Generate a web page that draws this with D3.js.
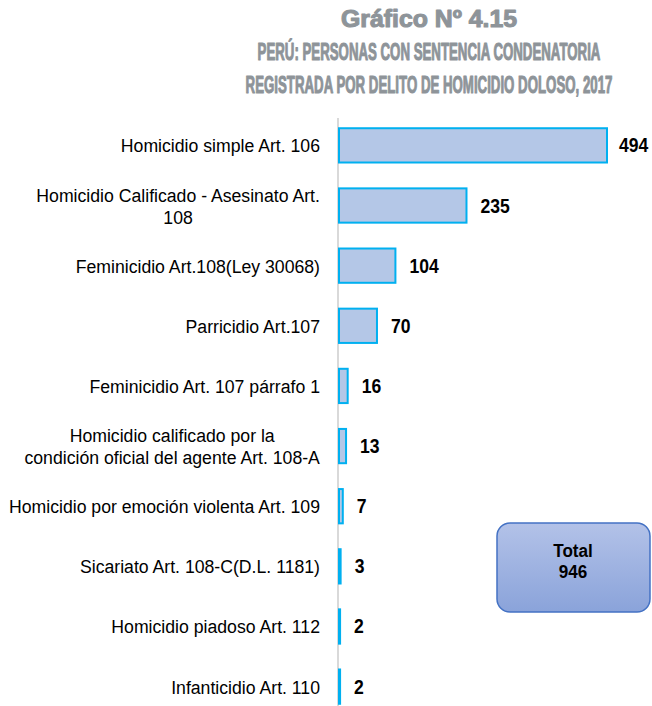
<!DOCTYPE html>
<html><head><meta charset="utf-8">
<script src="https://cdn.jsdelivr.net/npm/d3@7"></script>
<style>body{margin:0;background:#fff}svg{display:block}</style>
</head><body>
<script>
const categories = [
  ["Homicidio simple Art. 106"],
  ["Homicidio Calificado - Asesinato Art.", "108"],
  ["Feminicidio Art.108(Ley 30068)"],
  ["Parricidio Art.107"],
  ["Feminicidio Art. 107 párrafo 1"],
  ["Homicidio calificado por la", "condición oficial del agente Art. 108-A"],
  ["Homicidio por emoción violenta Art. 109"],
  ["Sicariato Art. 108-C(D.L. 1181)"],
  ["Homicidio piadoso Art. 112"],
  ["Infanticidio Art. 110"]
];
const values = [494, 235, 104, 70, 16, 13, 7, 3, 2, 2];
const titleLines = ["Gráfico Nº 4.15", "PERÚ: PERSONAS CON SENTENCIA CONDENATORIA", "REGISTRADA POR DELITO DE HOMICIDIO DOLOSO, 2017"];
const totalLines = ["Total", "946"];

const W = 652, H = 706;
const svg = d3.select("body").append("svg").attr("width", W).attr("height", H);
const font = "'Liberation Sans',Arial,sans-serif";

// title: condensed look via horizontal scale
const titleWidths = [176, 343, 367];
const titleG = svg.append("g");
titleLines.forEach((line, i) => {
  const g = titleG.append("g");
  const t = g.append("text")
    .attr("x", 0).attr("y", 0).attr("text-anchor", "middle")
    .attr("font-family", font).attr("font-weight", "bold")
    .attr("font-size", 24.5).attr("fill", "#8e9499")
    .attr("stroke", "#8e9499").attr("stroke-width", 1.1).attr("stroke-linejoin", "round")
    .text(line);
  const w = t.node().getComputedTextLength();
  g.attr("transform", `translate(429,${27 + i * 33}) scale(${titleWidths[i] / w},1)`);
});

const axisX = 339;
const x = d3.scaleLinear().domain([0, 494]).range([axisX, 607]);
const y = d3.scaleBand().domain(d3.range(values.length)).range([115, 717]).paddingInner(0.43).paddingOuter(0.22);

// axis line
svg.append("line").attr("x1", axisX - 1).attr("x2", axisX - 1).attr("y1", 118).attr("y2", H)
  .attr("stroke", "#d9d9d9").attr("stroke-width", 2);

// bars
svg.append("g").selectAll("rect").data(values).join("rect")
  .attr("x", x(0)).attr("y", (d, i) => y(i))
  .attr("width", d => x(d) - x(0)).attr("height", y.bandwidth())
  .attr("fill", "#b4c7e7").attr("stroke", "#00b0f0").attr("stroke-width", 2);

// value labels
svg.append("g").selectAll("text").data(values).join("text")
  .attr("transform", (d, i) => `translate(${Math.min(x(d) + 14, 619)},${y(i) + y.bandwidth() / 2 + 7}) scale(0.9,1)`)
  .attr("font-family", font).attr("font-weight", "bold").attr("font-size", 19.5)
  .attr("fill", "#000").text(d => d);

// category labels
const catFS = 19, catScale = 0.93;
const catG = svg.append("g");
categories.forEach((lines, i) => {
  const cy = y(i) + y.bandwidth() / 2;
  const g = catG.append("g").attr("transform", `translate(320,${cy}) scale(${catScale},1)`);
  const t = g.append("text").attr("font-family", font).attr("font-size", catFS).attr("fill", "#000");
  if (lines.length === 1) {
    t.attr("x", 0).attr("y", 7).attr("text-anchor", "end").text(lines[0]);
  } else {
    const tmp = svg.append("text").attr("font-family", font).attr("font-size", catFS);
    const widths = lines.map(l => { tmp.text(l); return tmp.node().getComputedTextLength(); });
    tmp.remove();
    const cx = -d3.max(widths) / 2;
    t.attr("text-anchor", "middle");
    lines.forEach((l, j) => {
      t.append("tspan").attr("x", cx).attr("y", 7 + (j - (lines.length - 1) / 2) * 22).text(l);
    });
  }
});

// total box
const defs = svg.append("defs");
const grad = defs.append("linearGradient").attr("id", "g1").attr("x1", 0).attr("y1", 0).attr("x2", 0).attr("y2", 1);
grad.append("stop").attr("offset", "0%").attr("stop-color", "#b3c2e8");
grad.append("stop").attr("offset", "100%").attr("stop-color", "#8aa3da");
svg.append("rect").attr("x", 497).attr("y", 523).attr("width", 153).attr("height", 89)
  .attr("rx", 13).attr("fill", "url(#g1)").attr("stroke", "#4472c4").attr("stroke-width", 1.5);
svg.append("g").selectAll("text").data(totalLines).join("text")
  .attr("transform", (d, i) => `translate(573,${557 + i * 21}) scale(0.9,1)`).attr("text-anchor", "middle")
  .attr("font-family", font).attr("font-weight", "bold").attr("font-size", 19).attr("fill", "#000")
  .text(d => d);
</script>
</body></html>
